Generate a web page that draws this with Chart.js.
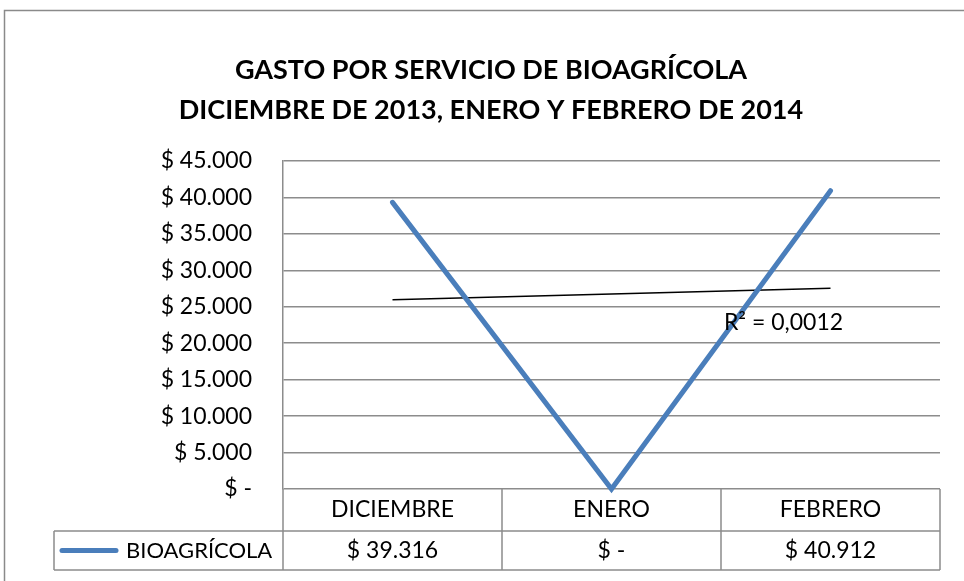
<!DOCTYPE html>
<html>
<head>
<meta charset="utf-8">
<script src="https://cdn.jsdelivr.net/npm/chart.js@4.4.1/dist/chart.umd.min.js"></script>
<style>
  html, body { margin: 0; padding: 0; background: #fff; }
</style>
</head>
<body>
<canvas id="chart" width="964" height="581"></canvas>
<script>
const titleLines = ['GASTO POR SERVICIO DE BIOAGRÍCOLA', 'DICIEMBRE DE 2013, ENERO Y FEBRERO DE 2014'];
const months = ['DICIEMBRE', 'ENERO', 'FEBRERO'];
const seriesName = 'BIOAGRÍCOLA';
const gasto = [39316, 0, 40912];
const yMax = 45000;
const yStep = 5000;

const FONT = 'Lato, "Open Sans", sans-serif';
const GRID = '#8c8c8c';
const BLUE = '#4a7ebb';

// "$ 39.316" style, zero shown as "$ -"
function peso(v) {
  if (v === 0) return '$ -';
  return '$ ' + String(Math.round(v)).replace(/\B(?=(\d{3})+(?!\d))/g, '.');
}

// linear trendline like excel (x = 1..n)
const xs = gasto.map((_, i) => i + 1);
const mx = xs.reduce((a, b) => a + b, 0) / xs.length;
const my = gasto.reduce((a, b) => a + b, 0) / gasto.length;
let sxy = 0, sxx = 0, syy = 0;
xs.forEach((x, i) => { sxy += (x - mx) * (gasto[i] - my); sxx += (x - mx) ** 2; syy += (gasto[i] - my) ** 2; });
const slope = sxy / sxx;
const intercept = my - slope * mx;
const trend = xs.map(x => intercept + slope * x);
const r2 = (slope * slope * sxx) / syy;

const frame = {
  id: 'frame',
  beforeDraw(chart) {
    const ctx = chart.ctx;
    ctx.save();
    ctx.fillStyle = '#fff';
    ctx.fillRect(0, 0, chart.width, chart.height);
    ctx.strokeStyle = '#8a8a8a';
    ctx.lineWidth = 1.5;
    ctx.strokeRect(4.5, 10.5, chart.width + 20, chart.height + 20);
    ctx.restore();
  }
};

// data table under the plot + R² label
const dataTable = {
  id: 'dataTable',
  afterDraw(chart) {
    const ctx = chart.ctx;
    const x = chart.scales.x, y = chart.scales.y, area = chart.chartArea;
    const half = (x.getPixelForValue(1) - x.getPixelForValue(0)) / 2;
    const top = area.bottom, mid = top + 42, bot = mid + 39;
    const legLeft = 54;
    ctx.save();
    ctx.strokeStyle = GRID;
    ctx.lineWidth = 1.5;
    ctx.beginPath();
    ctx.moveTo(legLeft, mid); ctx.lineTo(area.right, mid);
    ctx.moveTo(legLeft, bot); ctx.lineTo(area.right, bot);
    ctx.moveTo(legLeft, mid); ctx.lineTo(legLeft, bot);
    ctx.moveTo(area.left, top); ctx.lineTo(area.left, bot);
    months.forEach((m, i) => {
      const edge = x.getPixelForValue(i) + half;
      ctx.moveTo(edge, top); ctx.lineTo(edge, bot);
    });
    ctx.stroke();

    ctx.fillStyle = '#000';
    ctx.font = '23px ' + FONT;
    ctx.textAlign = 'center';
    ctx.textBaseline = 'middle';
    months.forEach((m, i) => {
      const cx = x.getPixelForValue(i);
      ctx.fillText(m, cx, (top + mid) / 2);
      ctx.fillText(peso(gasto[i]), cx, (mid + bot) / 2);
    });

    // legend key
    ctx.strokeStyle = BLUE;
    ctx.lineWidth = 5;
    ctx.lineCap = 'round';
    ctx.beginPath();
    ctx.moveTo(62, (mid + bot) / 2); ctx.lineTo(116, (mid + bot) / 2);
    ctx.stroke();
    ctx.font = '22px ' + FONT;
    ctx.textAlign = 'left';
    ctx.fillText(seriesName, 126, (mid + bot) / 2);

    ctx.font = '23px ' + FONT;
    ctx.textAlign = 'center';
    ctx.fillText('R² = ' + r2.toFixed(4).replace('.', ','), x.getPixelForValue(2) - 47, y.getPixelForValue(22800));
    ctx.restore();
  }
};

new Chart(document.getElementById('chart'), {
  type: 'line',
  data: {
    labels: months,
    datasets: [
      {
        label: seriesName,
        data: gasto,
        borderColor: BLUE,
        borderWidth: 5,
        borderCapStyle: 'round',
        pointRadius: 0,
        tension: 0,
        clip: false
      },
      {
        label: 'Lineal',
        data: trend,
        borderColor: '#000',
        borderWidth: 1.5,
        pointRadius: 0,
        tension: 0
      }
    ]
  },
  options: {
    responsive: false,
    animation: false,
    devicePixelRatio: 1,
    layout: { padding: { left: 42, right: 24, top: 0, bottom: 92 } },
    plugins: {
      legend: { display: false },
      tooltip: { enabled: false },
      title: {
        display: true,
        text: titleLines,
        color: '#000',
        font: { family: FONT, size: 27, weight: 'bold', lineHeight: 1.48 },
        padding: { top: 50, bottom: 31 }
      }
    },
    scales: {
      x: {
        offset: true,
        grid: { display: false },
        border: { display: false },
        ticks: { display: false },
        afterFit(s) { s.height = 0; }
      },
      y: {
        min: 0,
        max: yMax,
        ticks: {
          stepSize: yStep,
          color: '#000',
          padding: 31,
          font: { family: FONT, size: 23 },
          callback: v => peso(v)
        },
        grid: { color: GRID, lineWidth: 1.5, tickLength: 0, drawTicks: false },
        border: { display: true, color: GRID, width: 1.5 },
        afterFit(s) { s.width = 283 - 42; }
      }
    }
  },
  plugins: [frame, dataTable]
});
</script>
</body>
</html>
